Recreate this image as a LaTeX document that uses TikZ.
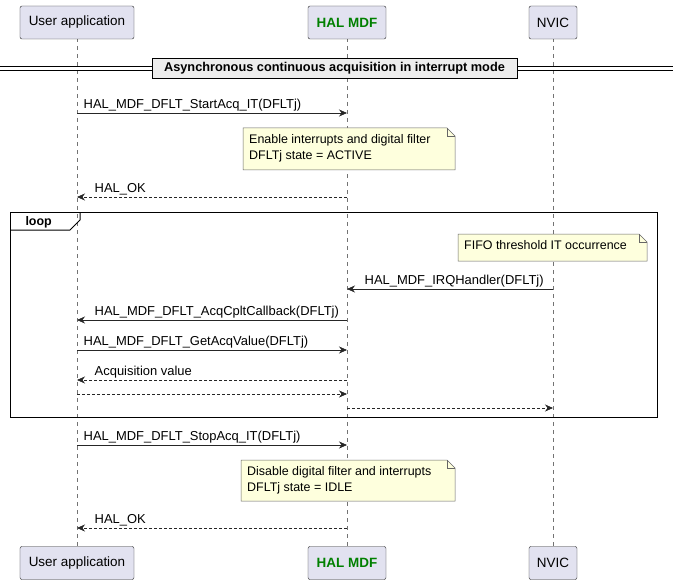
\documentclass[tikz,border=0pt]{standalone}
\usepackage{fontspec}
\setmainfont{Liberation Sans}
\usetikzlibrary{positioning,arrows.meta,calc}
\definecolor{partfill}{HTML}{E2E2F0}
\definecolor{notefill}{HTML}{FEFFDD}
\definecolor{halgreen}{HTML}{008000}
\begin{document}
\begin{tikzpicture}[x=1bp,y=-1bp,
  part/.style={draw=black!85, fill=partfill, rounded corners=2pt, minimum height=33bp, inner xsep=6bp, font=\fontsize{13.5}{15}\selectfont},
  life/.style={draw=black!55, dash pattern=on 4bp off 4bp, line width=0.5bp},
  msg/.style={draw=black!85, line width=0.7bp, -{Stealth[length=8bp,width=7bp]}},
  ret/.style={msg, dash pattern=on 3bp off 2bp},
  lbl/.style={font=\fontsize{13}{15}\selectfont, anchor=south west, inner sep=1.5bp},
  notetxt/.style={font=\fontsize{12.5}{16}\selectfont, align=left, anchor=north west, inner sep=0pt}
]
  \useasboundingbox (0,0) rectangle (673,582);
  % lifelines
  \foreach \x in {77,347,553} \draw[life] (\x,38) -- (\x,546);
  % participants
  \foreach \y/\s in {22.5/t,563/b} {
    \node[part, minimum width=114bp] (user\s) at (77,\y) {User application};
    \node[part, minimum width=78bp, text=halgreen, font=\bfseries\fontsize{13.5}{15}\selectfont] (hal\s) at (347,\y) {HAL MDF};
    \node[part, minimum width=48bp] (nvic\s) at (553,\y) {NVIC};
  }
  % divider
  \draw[line width=0.8bp] (0,66.5) -- (673,66.5) (0,70) -- (673,70);
  \node[draw, line width=1bp, fill=black!7, minimum width=365bp, minimum height=20bp, inner xsep=0pt, font=\bfseries\fontsize{12.8}{14}\selectfont] (div) at (334.5,68.5) {Asynchronous continuous acquisition in interrupt mode};
  % loop frame
  \draw[line width=1bp] (10,212) rectangle (657,417);
  \draw[line width=1bp] (10,230) -- (70,230) -- (80,220) -- (80,212);
  \node[font=\bfseries\fontsize{12.5}{14}\selectfont, anchor=west] (looplbl) at (22,222) {loop};
  % notes
  \foreach \xa/\ya/\xb/\yb/\t [count=\i] in {243/128/455/170/{Enable interrupts and digital filter\\DFLTj state = ACTIVE},
      458/234/647/261/{FIFO threshold IT occurrence},
      241/460/455/501/{Disable digital filter and interrupts\\DFLTj state = IDLE}} {
    \draw[draw=black!60, fill=notefill, line width=0.5bp] (\xa,\ya) -- (\xb-8,\ya) -- (\xb,\ya+8) -- (\xb,\yb) -- (\xa,\yb) -- cycle;
    \draw[draw=black!60, line width=0.5bp] (\xb-8,\ya) -- (\xb-8,\ya+8) -- (\xb,\ya+8);
    \node[notetxt] (note\i) at (\xa+6,\ya+6) {\t};
  }
  % message anchors
  \foreach \n/\y in {a/113,b/197,c/289,d/320,e/350,f/380,g/394,h/408,i/445,j/528} {
    \coordinate (u\n) at (77,\y);
    \coordinate (h\n) at (347,\y);
    \coordinate (v\n) at (553,\y);
  }
  % messages
  \draw[msg] (ua) -- (ha);
  \node[lbl] at ($(ua)+(5,0)$) {HAL\_MDF\_DFLT\_StartAcq\_IT(DFLTj)};
  \draw[ret] (hb) -- (ub);
  \node[lbl] at ($(ub)+(16,0)$) {HAL\_OK};
  \draw[msg] (vc) -- (hc);
  \node[lbl] at ($(hc)+(16,0)$) {HAL\_MDF\_IRQHandler(DFLTj)};
  \draw[msg] (hd) -- (ud);
  \node[lbl] at ($(ud)+(16,0)$) {HAL\_MDF\_DFLT\_AcqCpltCallback(DFLTj)};
  \draw[msg] (ue) -- (he);
  \node[lbl] at ($(ue)+(5,0)$) {HAL\_MDF\_DFLT\_GetAcqValue(DFLTj)};
  \draw[ret] (hf) -- (uf);
  \node[lbl] at ($(uf)+(16,0)$) {Acquisition value};
  \draw[ret] (ug) -- (hg);
  \draw[ret] (hh) -- (vh);
  \draw[msg] (ui) -- (hi);
  \node[lbl] at ($(ui)+(5,0)$) {HAL\_MDF\_DFLT\_StopAcq\_IT(DFLTj)};
  \draw[ret] (hj) -- (uj);
  \node[lbl] at ($(uj)+(16,0)$) {HAL\_OK};
\end{tikzpicture}
\end{document}
